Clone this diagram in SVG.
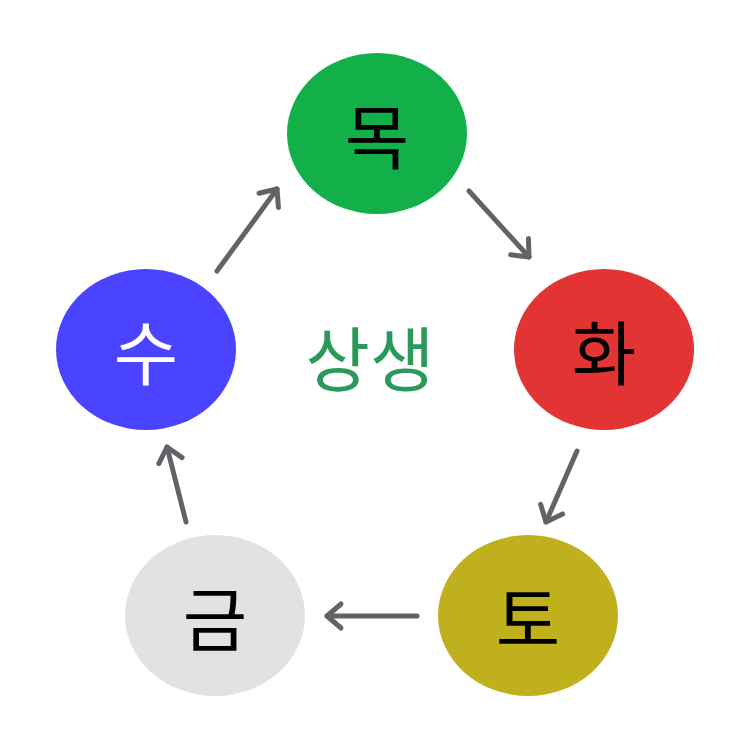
<svg xmlns="http://www.w3.org/2000/svg" width="750" height="750" viewBox="0 0 750 750">
<style>
.lbl{font-family:"Noto Sans CJK KR","Noto Sans",sans-serif;font-size:70px;text-anchor:middle;dominant-baseline:central}
.conn line{stroke:#636266;stroke-width:5;stroke-linecap:round;fill:none}
</style>
<defs>
<marker id="ah" markerUnits="userSpaceOnUse" markerWidth="40" markerHeight="40" refX="20" refY="20" orient="auto" viewBox="0 0 40 40">
<path d="M6,8 L20,20 L6,32" fill="none" stroke="#636266" stroke-width="5" stroke-linecap="round" stroke-linejoin="round"/>
</marker>
</defs>
<rect width="750" height="750" fill="#ffffff"/>
<g class="conn">
<line x1="217" y1="271" x2="277" y2="189" marker-end="url(#ah)"/>
<line x1="469" y1="191" x2="529" y2="257" marker-end="url(#ah)"/>
<line x1="577" y1="451" x2="546" y2="522" marker-end="url(#ah)"/>
<line x1="417" y1="616" x2="327" y2="616" marker-end="url(#ah)"/>
<line x1="186" y1="522" x2="167" y2="447" marker-end="url(#ah)"/>
</g>
<g id="mok"><ellipse cx="377" cy="133.5" rx="90" ry="80.5" fill="#13b04a"/><text class="lbl" x="377" y="133" fill="#000">목</text></g>
<g id="hwa"><ellipse cx="604" cy="349.5" rx="90" ry="80.5" fill="#e33434"/><text class="lbl" x="604" y="349" fill="#000">화</text></g>
<g id="to"><ellipse cx="528" cy="615.5" rx="90" ry="80.5" fill="#c0b01e"/><text class="lbl" x="528" y="615" fill="#000">토</text></g>
<g id="geum"><ellipse cx="215" cy="615.5" rx="90" ry="80.5" fill="#e3e2e0"/><text class="lbl" x="215" y="615" fill="#000">금</text></g>
<g id="su"><ellipse cx="146" cy="349.5" rx="90" ry="80.5" fill="#4a43ff"/><text class="lbl" x="146" y="349" fill="#fff">수</text></g>
<g id="center"><text class="lbl" x="370" y="355" fill="#2a9a5a">상생</text></g>
</svg>
